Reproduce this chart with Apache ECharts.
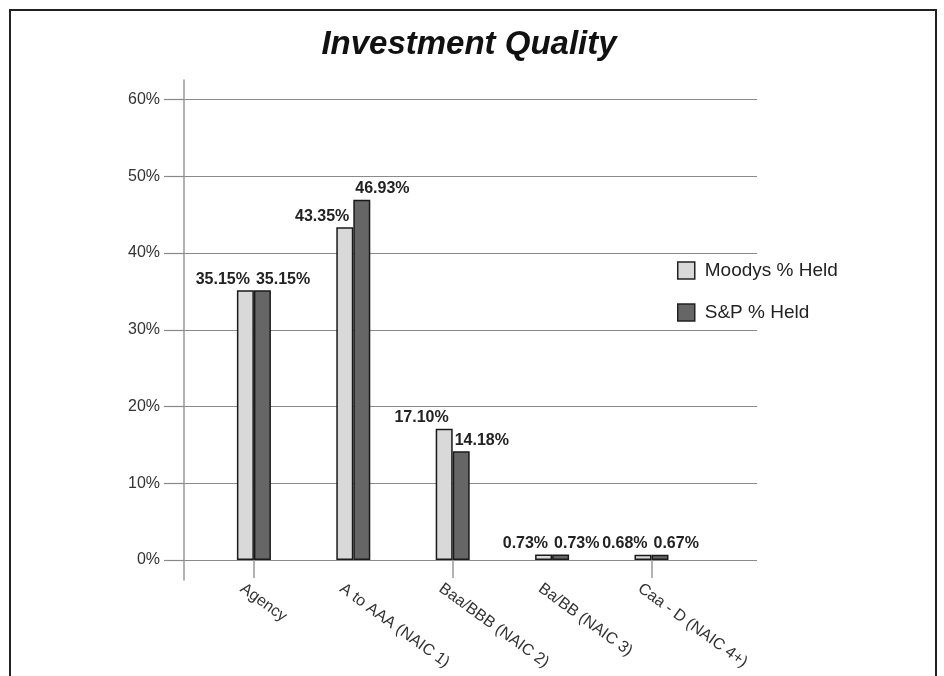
<!DOCTYPE html>
<html>
<head>
<meta charset="utf-8">
<script src="https://cdn.jsdelivr.net/npm/echarts@6/dist/echarts.min.js"></script>
<style>
html,body{margin:0;padding:0;background:#fff;}
#chart{width:944px;height:676px;}
</style>
</head>
<body>
<div id="chart"></div>
<script>
var categories = ['Agency', 'A to AAA (NAIC 1)', 'Baa/BBB (NAIC 2)', 'Ba/BB (NAIC 3)', 'Caa - D (NAIC 4+)'];
var moodys = [35.15, 43.35, 17.10, 0.73, 0.68];
var sp = [35.15, 46.93, 14.18, 0.73, 0.67];
var seriesNames = ['Moodys % Held', 'S&P % Held'];
var yMin = 0, yMax = 60, yStep = 10;

var font = 'Liberation Sans, Arial, Helvetica, sans-serif';
var chart = echarts.init(document.getElementById('chart'));

var plotTop = 99.5, plotBottom = 116;
var barGridLeft = 204.2, barGridWidth = 497;

var option = {
  backgroundColor: '#fff',
  animation: false,
  title: {
    text: 'Investment Quality',
    left: 464, top: 23, textAlign: 'center',
    textStyle: { fontFamily: font, fontSize: 33, fontWeight: 'bold', fontStyle: 'italic', color: '#111' }
  },
  legend: {
    orient: 'vertical',
    left: 672, top: 256,
    itemWidth: 17, itemHeight: 17, itemGap: 23,
    icon: 'rect',
    itemStyle: { borderColor: '#222', borderWidth: 1.5 },
    textStyle: { fontFamily: font, fontSize: 19, color: '#222', padding: [0, 0, 0, 5] },
    data: seriesNames
  },
  graphic: [{
    type: 'rect', silent: true, z: 100,
    shape: { x: 10, y: 10, width: 926, height: 700 },
    style: { fill: 'none', stroke: '#222', lineWidth: 2 }
  }],
  grid: [
    { left: 184, right: 187, top: plotTop, bottom: plotBottom },
    { left: barGridLeft, width: barGridWidth, top: plotTop, bottom: plotBottom },
    { left: barGridLeft - 12, width: barGridWidth, top: plotTop, bottom: plotBottom },
    { left: 184, right: 187, top: 80, bottom: 96 }
  ],
  xAxis: [
    { gridIndex: 0, type: 'value', show: false, min: 0, max: 1 },
    { gridIndex: 1, type: 'category', data: categories,
      axisLine: { show: false },
      axisTick: { show: true, alignWithLabel: true, length: 18, lineStyle: { color: '#999', width: 1.5 } },
      axisLabel: { show: false } },
    { gridIndex: 2, type: 'category', data: categories,
      axisLine: { show: false }, axisTick: { show: false },
      axisLabel: { show: true, interval: 0, rotate: -36, margin: 27,
        fontFamily: font, fontSize: 16, color: '#333' } },
    { gridIndex: 3, type: 'value', show: false, min: 0, max: 1 }
  ],
  yAxis: [
    { gridIndex: 0, type: 'value', min: yMin, max: yMax, interval: yStep,
      axisLine: { show: false },
      axisTick: { show: true, length: 20, lineStyle: { color: '#888', width: 1.2 } },
      splitLine: { show: true, lineStyle: { color: '#8a8a8a', width: 1.2 } },
      axisLabel: { formatter: '{value}%', margin: 24, fontFamily: font, fontSize: 16, color: '#333' } },
    { gridIndex: 1, type: 'value', min: yMin, max: yMax, interval: yStep, show: false },
    { gridIndex: 2, type: 'value', min: yMin, max: yMax, interval: yStep, show: false },
    { gridIndex: 3, type: 'value', min: 0, max: 1,
      axisLine: { show: true, lineStyle: { color: '#999', width: 1.5 } },
      axisTick: { show: false }, axisLabel: { show: false }, splitLine: { show: false } }
  ],
  series: [
    { name: seriesNames[0], type: 'bar', xAxisIndex: 1, yAxisIndex: 1,
      data: moodys, barWidth: 17, barGap: '0%',
      itemStyle: { color: '#d9d9d9', borderColor: '#1a1a1a', borderWidth: 1.5 },
      label: { show: true, position: 'top', distance: 3, align: 'right', offset: [4.5, 0],
        formatter: function (p) { return p.value.toFixed(2) + '%'; },
        fontFamily: font, fontSize: 16, fontWeight: 'bold', color: '#222' } },
    { name: seriesNames[1], type: 'bar', xAxisIndex: 1, yAxisIndex: 1,
      data: sp, barWidth: 17, barGap: '0%',
      itemStyle: { color: '#666666', borderColor: '#1a1a1a', borderWidth: 1.5 },
      label: { show: true, position: 'top', distance: 3, align: 'left', offset: [-6.5, 0],
        formatter: function (p) { return p.value.toFixed(2) + '%'; },
        fontFamily: font, fontSize: 16, fontWeight: 'bold', color: '#222' } }
  ]
};
chart.setOption(option);
</script>
</body>
</html>
